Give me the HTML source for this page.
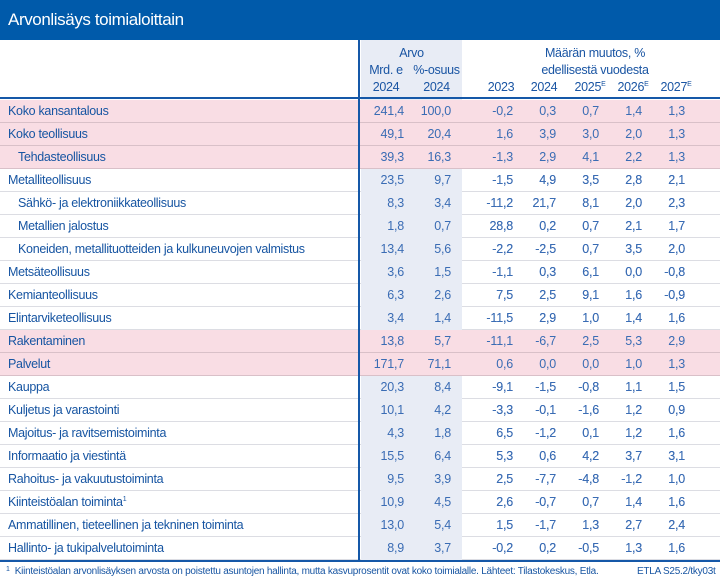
<!DOCTYPE html>
<html><head><meta charset="utf-8"><style>
*{margin:0;padding:0;box-sizing:border-box}
body{width:720px;height:585px;background:#fff;font-family:"Liberation Sans",sans-serif;position:relative;overflow:hidden}
.title{position:absolute;left:0;top:0;width:720px;height:40px;background:#005aaa;color:#fff;font-size:17px;line-height:40px;padding-left:8px;letter-spacing:-0.4px}
.shade{position:absolute;left:361px;top:40px;width:101px;height:520px;background:#e8ecf5;z-index:0}
.vline{position:absolute;left:358px;top:40px;width:2px;height:520px;background:#1558a8;z-index:3}
.h{position:absolute;color:#1a55a3;font-size:12.5px;text-align:center;letter-spacing:-0.3px;line-height:15px}
.row{position:absolute;left:0;width:720px;height:23px;border-bottom:1px solid #dcdde3}
.pink{background:#f9dde4;border-bottom:1px solid #d9c0c8;z-index:1}
.lab{position:absolute;top:0;line-height:23px;font-size:12.5px;color:#1755a2;letter-spacing:-0.3px;white-space:nowrap}
.n{position:absolute;top:0;line-height:23px;font-size:12.5px;color:#3a6cb4;text-align:right;width:50px;letter-spacing:-0.2px}
sup{font-size:7px;line-height:0;position:relative;top:-5px;vertical-align:baseline}
.foot{position:absolute;top:565px;font-size:10px;color:#1755a2;letter-spacing:-0.25px;white-space:nowrap;line-height:13px}
.foot sup{top:-3px}
</style></head><body>
<div class="title">Arvonlisäys toimialoittain</div>
<div id="rows"></div>
<div class="shade"></div>
<div style="position:absolute;left:0;top:97px;width:720px;height:2px;background:#1558a8;z-index:3"></div>
<div style="position:absolute;left:0;top:560px;width:720px;height:2px;background:#1558a8;z-index:3"></div>
<div class="h" style="left:361px;top:46px;width:101px">Arvo</div>
<div class="h" style="left:361px;top:63px;width:50px">Mrd. e</div>
<div class="h" style="left:411px;top:63px;width:51px">%-osuus</div>
<div class="h" style="left:361px;top:80px;width:50px">2024</div>
<div class="h" style="left:411px;top:80px;width:51px">2024</div>
<div class="h" style="left:480px;top:46px;width:230px">Määrän muutos, %</div>
<div class="h" style="left:480px;top:63px;width:230px">edellisestä vuodesta</div>
<div class="h" style="left:486px;top:80px;width:30px">2023</div>
<div class="h" style="left:529px;top:80px;width:30px">2024</div>
<div class="h" style="left:573px;top:80px;width:34px">2025<sup>E</sup></div>
<div class="h" style="left:616px;top:80px;width:34px">2026<sup>E</sup></div>
<div class="h" style="left:659px;top:80px;width:34px">2027<sup>E</sup></div>
<div class="vline"></div>
<div class="foot" style="left:6px"><sup>1</sup>&nbsp; Kiinteistöalan arvonlisäyksen arvosta on poistettu asuntojen hallinta, mutta kasvuprosentit ovat koko toimialalle. Lähteet: Tilastokeskus, Etla.</div>
<div class="foot" style="left:637px">ETLA S25.2/tky03t</div>
<script>
var d=[
["Koko kansantalous",8,1,"241,4","100,0","-0,2","0,3","0,7","1,4","1,3"],
["Koko teollisuus",8,1,"49,1","20,4","1,6","3,9","3,0","2,0","1,3"],
["Tehdasteollisuus",18,1,"39,3","16,3","-1,3","2,9","4,1","2,2","1,3"],
["Metalliteollisuus",8,0,"23,5","9,7","-1,5","4,9","3,5","2,8","2,1"],
["Sähkö- ja elektroniikkateollisuus",18,0,"8,3","3,4","-11,2","21,7","8,1","2,0","2,3"],
["Metallien jalostus",18,0,"1,8","0,7","28,8","0,2","0,7","2,1","1,7"],
["Koneiden, metallituotteiden ja kulkuneuvojen valmistus",18,0,"13,4","5,6","-2,2","-2,5","0,7","3,5","2,0"],
["Metsäteollisuus",8,0,"3,6","1,5","-1,1","0,3","6,1","0,0","-0,8"],
["Kemianteollisuus",8,0,"6,3","2,6","7,5","2,5","9,1","1,6","-0,9"],
["Elintarviketeollisuus",8,0,"3,4","1,4","-11,5","2,9","1,0","1,4","1,6"],
["Rakentaminen",8,1,"13,8","5,7","-11,1","-6,7","2,5","5,3","2,9"],
["Palvelut",8,1,"171,7","71,1","0,6","0,0","0,0","1,0","1,3"],
["Kauppa",8,0,"20,3","8,4","-9,1","-1,5","-0,8","1,1","1,5"],
["Kuljetus ja varastointi",8,0,"10,1","4,2","-3,3","-0,1","-1,6","1,2","0,9"],
["Majoitus- ja ravitsemistoiminta",8,0,"4,3","1,8","6,5","-1,2","0,1","1,2","1,6"],
["Informaatio ja viestintä",8,0,"15,5","6,4","5,3","0,6","4,2","3,7","3,1"],
["Rahoitus- ja vakuutustoiminta",8,0,"9,5","3,9","2,5","-7,7","-4,8","-1,2","1,0"],
["Kiinteistöalan toiminta<sup>1</sup>",8,0,"10,9","4,5","2,6","-0,7","0,7","1,4","1,6"],
["Ammatillinen, tieteellinen ja tekninen toiminta",8,0,"13,0","5,4","1,5","-1,7","1,3","2,7","2,4"],
["Hallinto- ja tukipalvelutoiminta",8,0,"8,9","3,7","-0,2","0,2","-0,5","1,3","1,6"]];
var rx=[404,451,513,556,599,642,685],h="";
d.forEach(function(r,i){
 var t=100+i*23;
 h+='<div class="row'+(r[2]?' pink':'')+'" style="top:'+t+'px"><div class="lab" style="left:'+r[1]+'px">'+r[0]+'</div>';
 for(var k=0;k<7;k++)h+='<div class="n" style="left:'+(rx[k]-50)+'px">'+r[3+k]+'</div>';
 h+='</div>';
 if(!r[2]){h+='<div class="row" style="top:'+t+'px;z-index:2;border:none;background:none">';for(var k=0;k<7;k++)h+='<div class="n" style="left:'+(rx[k]-50)+'px">'+r[3+k]+'</div>';h+='</div>';}
});
document.getElementById('rows').innerHTML=h;
</script>
</body></html>
